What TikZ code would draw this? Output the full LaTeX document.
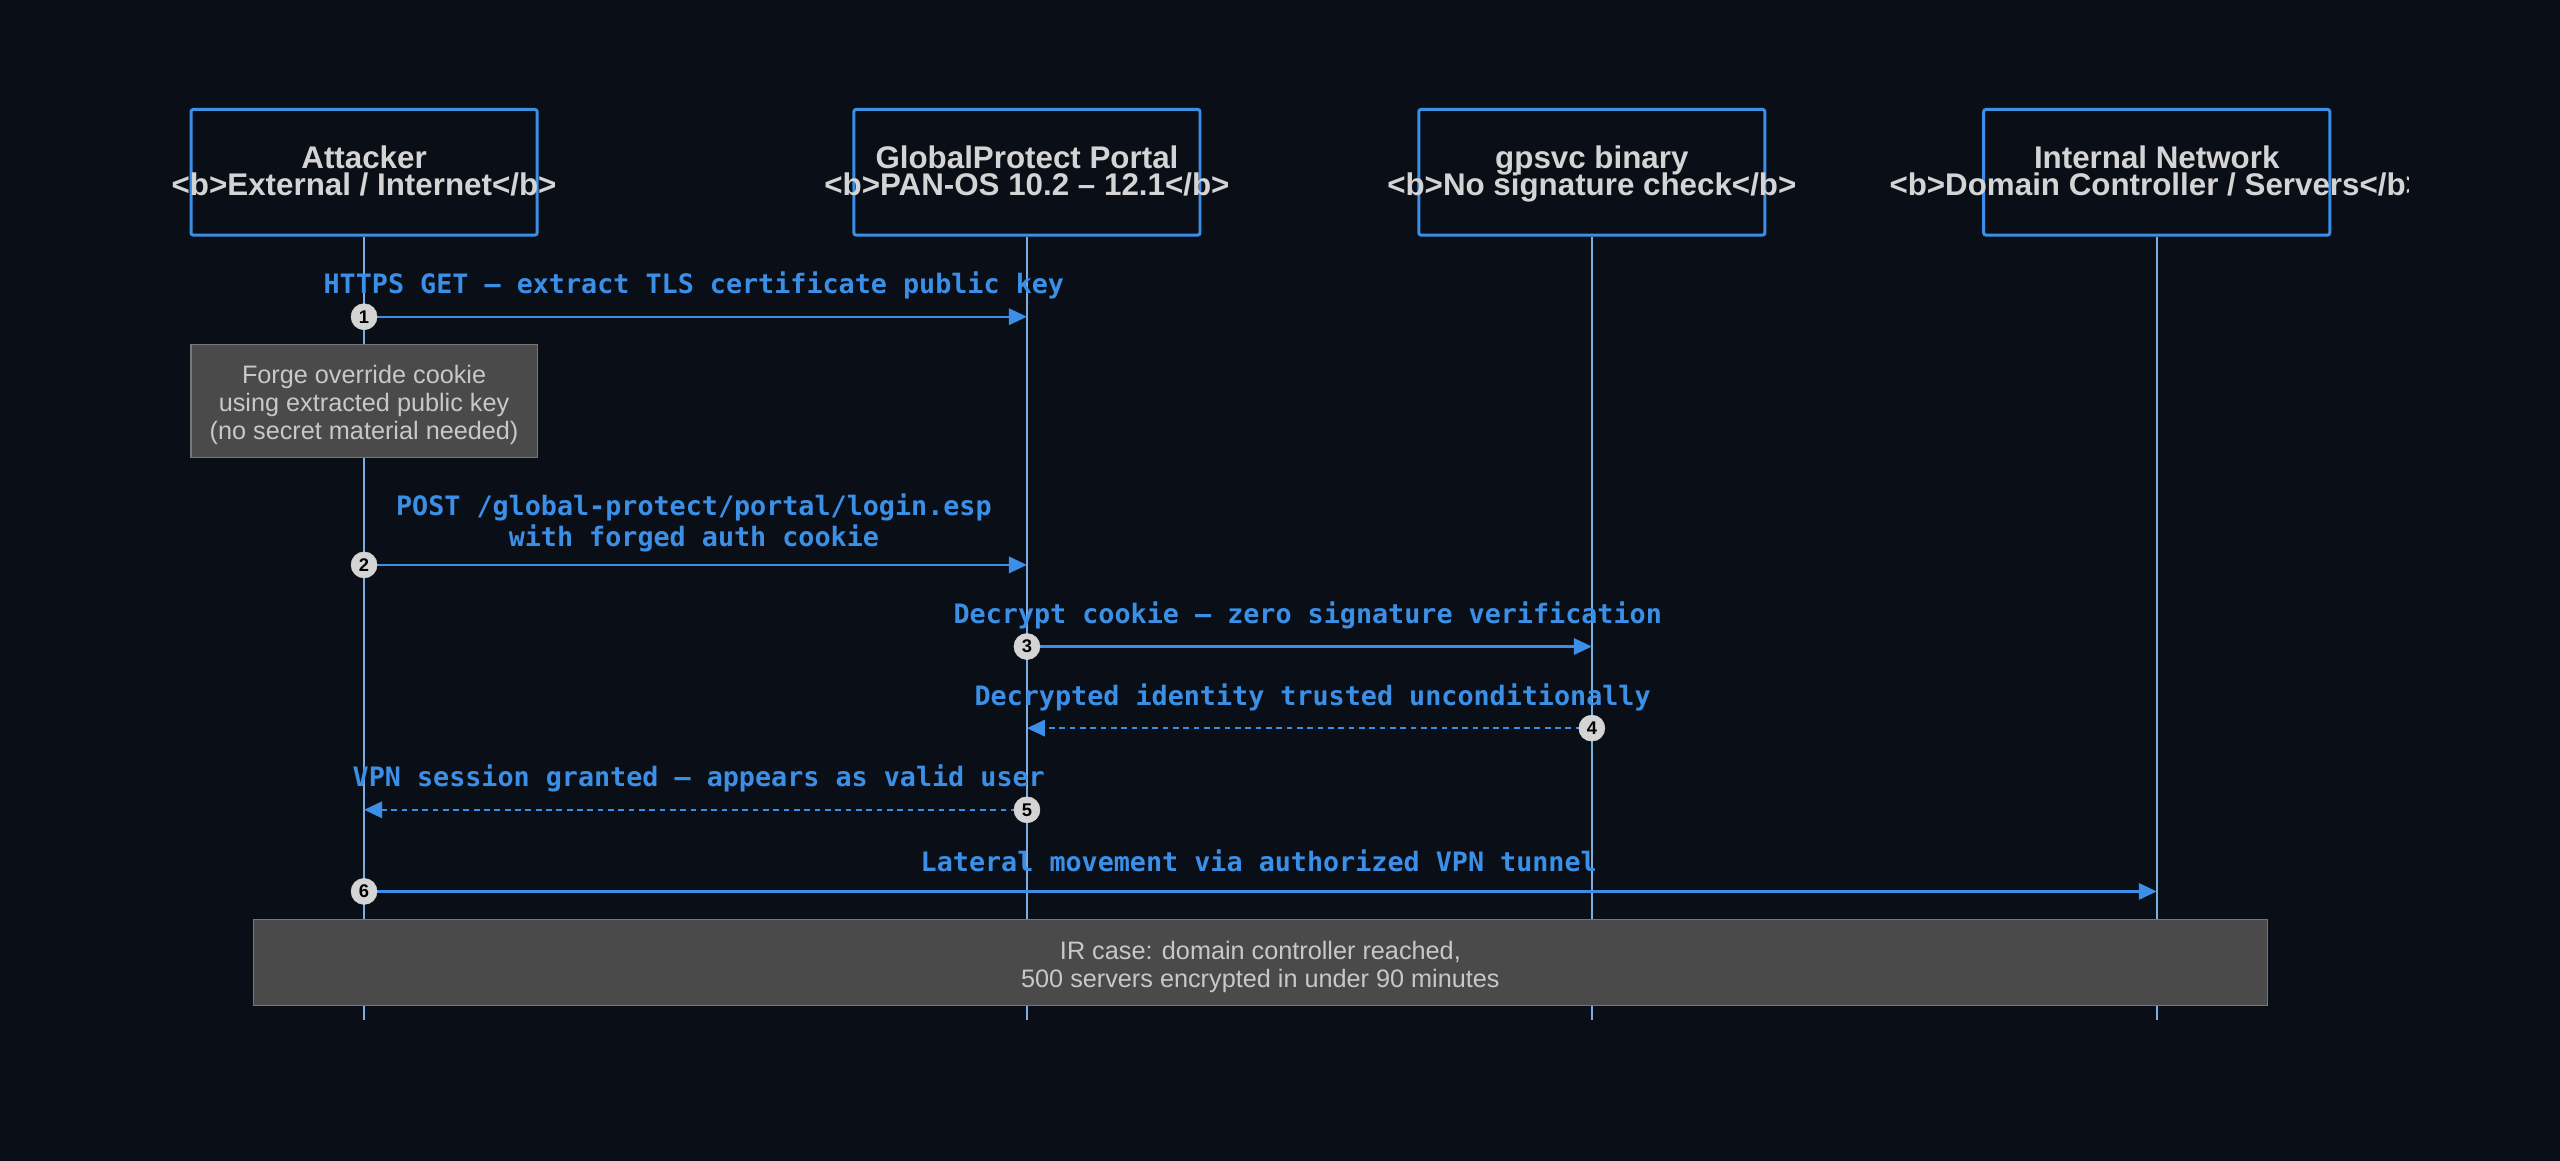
\documentclass[tikz,border=0pt]{standalone}
\usepackage{fontspec}
\setmainfont{Liberation Sans}
\newfontfamily\monob{DejaVu Sans Mono}[FakeBold=0]
\usetikzlibrary{arrows.meta}
\definecolor{bg}{HTML}{0A0E17}
\definecolor{bblue}{HTML}{3B8FE6}
\definecolor{lline}{HTML}{7AAEE0}
\definecolor{htext}{HTML}{D4D4D4}
\definecolor{notefill}{HTML}{4A4A4A}
\definecolor{noteline}{HTML}{777777}
\definecolor{notetext}{HTML}{C8C8C8}
\tikzset{
  part/.style={draw=bblue, line width=2.6pt, rounded corners=2pt, minimum width=10.6cm, minimum height=3.85cm},
  ptext/.style={text=htext, font=\fontsize{27.3}{22}\selectfont\bfseries, anchor=base, inner sep=0pt},
  life/.style={draw=lline, line width=2pt},
  msg/.style={draw=bblue, line width=2pt, -{Triangle[length=0.55cm,width=0.5cm]}},
  rmsg/.style={msg, dash pattern=on 5pt off 4pt},
  lbl/.style={text=bblue, font=\fontsize{23.3}{27}\selectfont\bfseries\monob, align=center},
  num/.style={circle, fill=htext, draw=htext, minimum size=0.8cm, inner sep=0pt, text=black, font=\fontsize{16}{16}\selectfont\bfseries},
  note/.style={draw=noteline, fill=notefill, line width=1pt, text=notetext, font=\fontsize{22}{24.5}\selectfont, align=center, inner sep=0pt},
}
\begin{document}
\begin{tikzpicture}[x=0.05cm,y=-0.05cm]
\fill[bg] (0,0) rectangle (1568,711);
\useasboundingbox (0,0) rectangle (1568,711);
\foreach \n/\x/\a/\b in {A/223/Attacker/{<b>External / Internet</b>}, G/629/GlobalProtect Portal/{<b>PAN-OS 10.2 – 12.1</b>}, S/975/gpsvc binary/{<b>No signature check</b>}, I/1321/Internal Network/{<b>Domain Controller / Servers</b>}}{
  \node[part] (\n) at (\x,105.5) {};
  \coordinate (\n e) at (\x,625);
  \draw[life] (\n.south) -- (\n e);
}
\begin{scope}
\clip (0,0) rectangle (1475,711);
\foreach \n/\x/\a/\b in {A/223/Attacker/{<b>External / Internet</b>}, G/629/GlobalProtect Portal/{<b>PAN-OS 10.2 – 12.1</b>}, S/975/gpsvc binary/{<b>No signature check</b>}, I/1321/Internal Network/{<b>Domain Controller / Servers</b>}}{
  \node[ptext] (\n t1) at (\x,103.5) {\a};
  \node[ptext] (\n t2) at (\x,119.5) {\b};
}
\end{scope}
\foreach \n in {A,G,S,I}{\coordinate (\n1) at (\n|-0,194);\coordinate (\n2) at (\n|-0,346);\coordinate (\n3) at (\n|-0,396);\coordinate (\n4) at (\n|-0,446);\coordinate (\n5) at (\n|-0,496);\coordinate (\n6) at (\n|-0,546);}
% note 1
\node[note, minimum width=10.6cm, minimum height=3.45cm] (n1) at (223,245.5) {};
\node[text=notetext, font=\fontsize{22}{24.5}\selectfont, align=center] (n1t) at (223,248) {Forge override cookie\\using extracted public key\\(no secret material needed)};
% messages
\draw[msg] (A1) -- (G1);
\node[lbl] (l1) at (425,175) {HTTPS GET — extract TLS certificate public key};
\node[num] (c1) at (A1) {1};
\draw[msg] (A2) -- (G2);
\node[lbl] (l2) at (425,320.5) {POST /global-protect/portal/login.esp\\with forged auth cookie};
\node[num] (c2) at (A2) {2};
\draw[msg] (G3) -- (S3);
\node[lbl] (l3) at (801,377) {Decrypt cookie — zero signature verification};
\node[num] (c3) at (G3) {3};
\draw[rmsg] (S4) -- (G4);
\node[lbl] (l4) at (804,427) {Decrypted identity trusted unconditionally};
\node[num] (c4) at (S4) {4};
\draw[rmsg] (G5) -- (A5);
\node[lbl] (l5) at (428,477) {VPN session granted — appears as valid user};
\node[num] (c5) at (G5) {5};
\draw[msg] (A6) -- (I6);
\node[lbl] (l6) at (771,527) {Lateral movement via authorized VPN tunnel};
\node[num] (c6) at (A6) {6};
% note 2
\node[note, minimum width=61.7cm, minimum height=2.65cm] (n2) at (772,589.5) {};
\node[text=notetext, font=\fontsize{22}{24.5}\selectfont, align=center] (n2t) at (772,592.5) {IR case: domain controller reached,\\500 servers encrypted in under 90 minutes};
\end{tikzpicture}
\end{document}
